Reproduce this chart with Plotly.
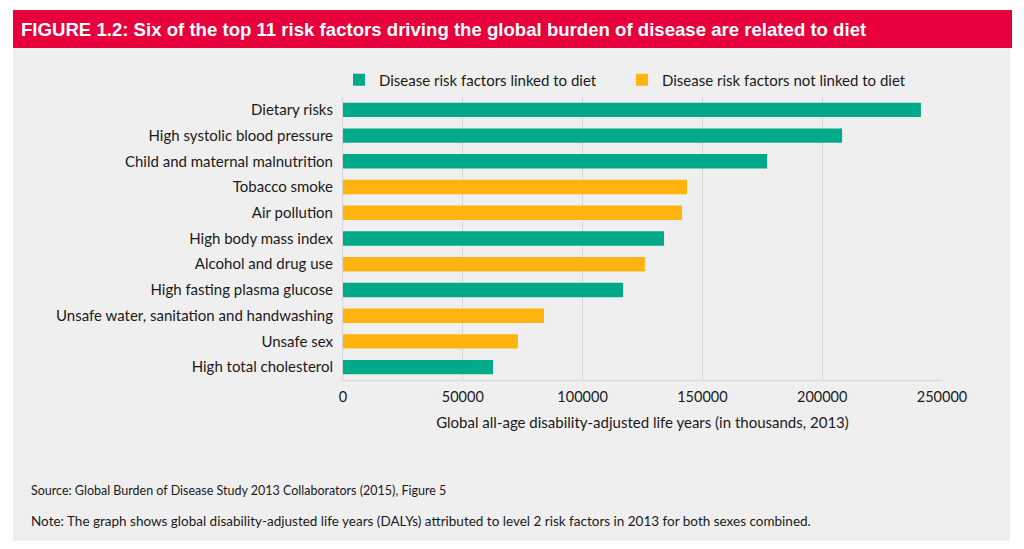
import plotly.graph_objects as go

categories = [
    "Dietary risks",
    "High systolic blood pressure",
    "Child and maternal malnutrition",
    "Tobacco smoke",
    "Air pollution",
    "High body mass index",
    "Alcohol and drug use",
    "High fasting plasma glucose",
    "Unsafe water, sanitation and handwashing",
    "Unsafe sex",
    "High total cholesterol",
]
values = [241200, 208300, 177000, 143600, 141500, 134000, 126000, 116900, 83900, 73000, 62600]
linked_to_diet = [True, True, True, False, False, True, False, True, False, False, True]
series_names = ["Disease risk factors linked to diet", "Disease risk factors not linked to diet"]
tick_values = [0, 50000, 100000, 150000, 200000, 250000]
tick_labels = ["0", "50000", "100000", "150000", "200000", "250000"]

TEAL = "#00a98a"
ORANGE = "#ffb30f"
RED = "#e8003c"
BG = "#f0efef"
FONT = "Lato"

# page body has an 8px margin; figure is sized to fit the window
OFF = 8
FW, FH = 1024 - OFF, 549 - OFF
# plot area in reference pixels
L, R, T, B = 343, 942, 97, 380
W, H = R - L, B - T

def px(x):
    return (x - L) / W

def py(y):
    return (B - y) / H

fig = go.Figure()
for flag, name, color in [(True, series_names[0], TEAL), (False, series_names[1], ORANGE)]:
    ys = [c for c, f in zip(categories, linked_to_diet) if f == flag]
    xs = [v for v, f in zip(values, linked_to_diet) if f == flag]
    fig.add_trace(go.Bar(
        x=xs, y=ys, orientation="h", name=name,
        marker=dict(color=color, line=dict(width=0)),
        width=0.56,
    ))

fig.update_layout(
    width=FW, height=FH,
    margin=dict(l=L - OFF, r=1024 - R, t=T - OFF, b=549 - B, pad=0),
    paper_bgcolor="white",
    plot_bgcolor=BG,
    barmode="overlay",
    font=dict(family=FONT, color="#1a1a1a", size=15),
    showlegend=True,
    legend=dict(
        orientation="h", x=px(339), xanchor="left", y=py(80), yanchor="middle",
        bgcolor="rgba(0,0,0,0)", font=dict(size=15, family=FONT, color="#1a1a1a"),
        entrywidth=238, entrywidthmode="pixels", traceorder="normal",
    ),
    xaxis=dict(
        range=[0, 250000], tickvals=tick_values, ticktext=tick_labels,
        showgrid=True, gridcolor="#d6d6d6", gridwidth=1,
        zeroline=False, showline=True, linecolor="#d6d6d6", linewidth=1,
        tickfont=dict(size=14.5, family=FONT, color="#1a1a1a"),
        ticks="", ticklabelstandoff=4,
        title=dict(text="Global all-age disability-adjusted life years (in thousands, 2013)",
                   font=dict(size=15, family=FONT, color="#1a1a1a"), standoff=13),
        fixedrange=True,
    ),
    yaxis=dict(
        categoryorder="array", categoryarray=categories[::-1],
        showgrid=False, zeroline=False, showline=True, linecolor="#d6d6d6", linewidth=1,
        ticks="", ticklabelstandoff=6,
        tickfont=dict(size=15, family=FONT, color="#1a1a1a"),
        range=[-0.5, len(categories) - 0.5],
        fixedrange=True,
    ),
    shapes=[
        dict(type="rect", xref="paper", yref="paper", x0=px(13), x1=px(1010), y0=py(541), y1=py(48),
             fillcolor=BG, line=dict(width=0), layer="below"),
        dict(type="rect", xref="paper", yref="paper", x0=px(13), x1=px(1012), y0=py(48), y1=py(10),
             fillcolor=RED, line=dict(width=0), layer="below"),
    ],
    annotations=[
        dict(text="<b>FIGURE 1.2: Six of the top 11 risk factors driving the global burden of disease are related to diet</b>",
             xref="paper", yref="paper", x=px(19), y=py(29), xanchor="left", yanchor="middle",
             showarrow=False, font=dict(family="Liberation Sans Narrow, Arial Narrow, sans-serif", size=18.6, color="white")),
        dict(text="Source: Global Burden of Disease Study 2013 Collaborators (2015), Figure 5",
             xref="paper", yref="paper", x=px(29), y=py(490), xanchor="left", yanchor="middle",
             showarrow=False, font=dict(family=FONT, size=12.5, color="#1a1a1a")),
        dict(text="Note: The graph shows global disability-adjusted life years (DALYs) attributed to level 2 risk factors in 2013 for both sexes combined.",
             xref="paper", yref="paper", x=px(29), y=py(521), xanchor="left", yanchor="middle",
             showarrow=False, font=dict(family=FONT, size=13.5, color="#1a1a1a")),
    ],
)

fig.write_html("out.html")
